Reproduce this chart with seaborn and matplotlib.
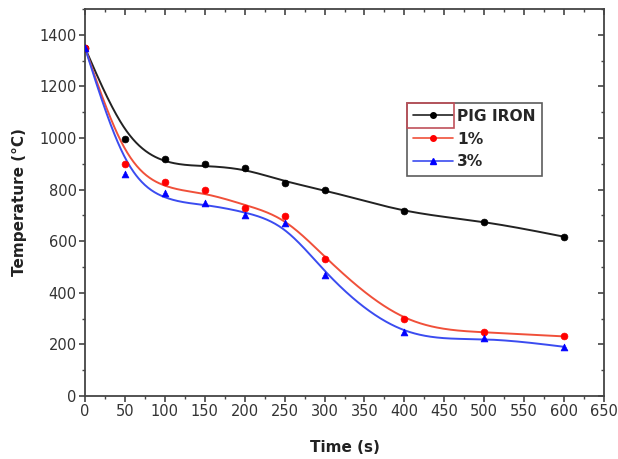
import numpy as np
import pandas as pd
import matplotlib
matplotlib.use("Agg")
import matplotlib.pyplot as plt
import seaborn as sns
from matplotlib.ticker import MultipleLocator
from matplotlib.patches import Rectangle
from matplotlib.lines import Line2D

# ---- data ----
time_s = [0, 50, 100, 150, 200, 250, 300, 400, 500, 600]
pig_iron = [1350, 995, 918, 898, 883, 826, 800, 717, 675, 617]
one_pct = [1350, 900, 829, 798, 727, 698, 532, 300, 250, 231]
three_pct = [1350, 860, 788, 750, 700, 672, 470, 250, 224, 190]
series_names = ["PIG IRON", "1%", "3%"]
series_colors = ["black", "red", "blue"]
line_colors = ["#222222", "#f0503a", "#3b4cf0"]
series_markers = ["o", "o", "^"]

sns.set_theme(style="white")
plt.rcParams["font.family"] = ["DejaVu Sans"]

df = pd.DataFrame({"Time": time_s * 3,
                   "Temp": pig_iron + one_pct + three_pct,
                   "Series": sum([[n] * len(time_s) for n in series_names], [])})


def smooth_curve(x, y, lam=1.2e4):
    grid = np.arange(min(x), max(x) + 1, 1.0)
    n = len(grid)
    w = np.zeros(n)
    z = np.zeros(n)
    for xi, yi in zip(x, y):
        i = int(round(xi - grid[0]))
        w[i] = 1.0
        z[i] = yi
    w[0] = 50.0  # anchor start
    D = np.diff(np.eye(n), 2, axis=0)
    A = np.diag(w) + lam * D.T @ D
    return grid, np.linalg.solve(A, w * z)


fig = plt.figure(figsize=(6.18, 4.59), dpi=100)
ax = fig.add_axes([85 / 618, 63 / 459, 519 / 618, 387 / 459])

for name, col, lcol, mk in zip(series_names, series_colors, line_colors, series_markers):
    sub = df[df["Series"] == name]
    gx, gy = smooth_curve(sub["Time"].values, sub["Temp"].values)
    sns.lineplot(x=gx, y=gy, ax=ax, color=lcol, lw=1.4, legend=False)
    sns.scatterplot(data=sub, x="Time", y="Temp", ax=ax, color=col, marker=mk,
                    s=24, edgecolor=col, linewidth=0.5, legend=False, zorder=3)

handles = [Line2D([], [], color=lc, marker=mk, markersize=4, markerfacecolor=c,
                  markeredgecolor=c, lw=1.2)
           for c, lc, mk in zip(series_colors, line_colors, series_markers)]
leg = ax.legend(handles, series_names, loc="upper left", bbox_to_anchor=(0.62, 0.758),
                borderaxespad=0, frameon=True, fancybox=False, handlelength=2.6,
                handletextpad=0.25, borderpad=0.4, labelspacing=0.5,
                prop={"weight": "bold", "size": 11.2})
leg.get_frame().set_edgecolor("#333333")
leg.get_frame().set_linewidth(1.2)

ax.set_xlim(0, 650)
ax.set_ylim(0, 1500)
ax.xaxis.set_major_locator(MultipleLocator(50))
ax.xaxis.set_minor_locator(MultipleLocator(25))
ax.yaxis.set_minor_locator(MultipleLocator(100))
ax.set_yticks(range(0, 1401, 200))
ax.tick_params(which="major", direction="out", length=4, width=1.2, colors="#444444",
               labelsize=10.5, labelcolor="#333333", pad=2)
ax.tick_params(which="minor", direction="out", length=2.5, width=1, colors="#444444")
ax.tick_params(axis="both", which="both", bottom=True, left=True)

secx = ax.secondary_xaxis("top")
secx.xaxis.set_major_locator(MultipleLocator(50))
secx.xaxis.set_minor_locator(MultipleLocator(25))
secx.tick_params(which="both", direction="in", labeltop=False, colors="#444444")
secx.tick_params(which="major", length=4, width=1.2)
secx.tick_params(which="minor", length=2.5, width=1)
secy = ax.secondary_yaxis("right")
secy.yaxis.set_major_locator(MultipleLocator(200))
secy.yaxis.set_minor_locator(MultipleLocator(100))
secy.tick_params(which="both", direction="in", labelright=False, colors="#444444")
secy.tick_params(which="major", length=4, width=1.2)
secy.tick_params(which="minor", length=2.5, width=1)
for s in list(secx.spines.values()) + list(secy.spines.values()):
    s.set_visible(False)

for s in ax.spines.values():
    s.set_color("#444444")
    s.set_linewidth(1.3)

ax.set_xlabel("Time (s)", fontsize=11, fontweight="bold", color="#222222", labelpad=15)
ax.set_ylabel("Temperature (°C)", fontsize=11, fontweight="bold", color="#222222", labelpad=9)

# highlight box around first legend entry (as in reference)
ax.add_patch(Rectangle((0.621, 0.693), 0.09, 0.065, transform=ax.transAxes,
                       fill=False, edgecolor="#c0505a", lw=1.2, zorder=6))

fig.savefig("out.png", dpi=100)
